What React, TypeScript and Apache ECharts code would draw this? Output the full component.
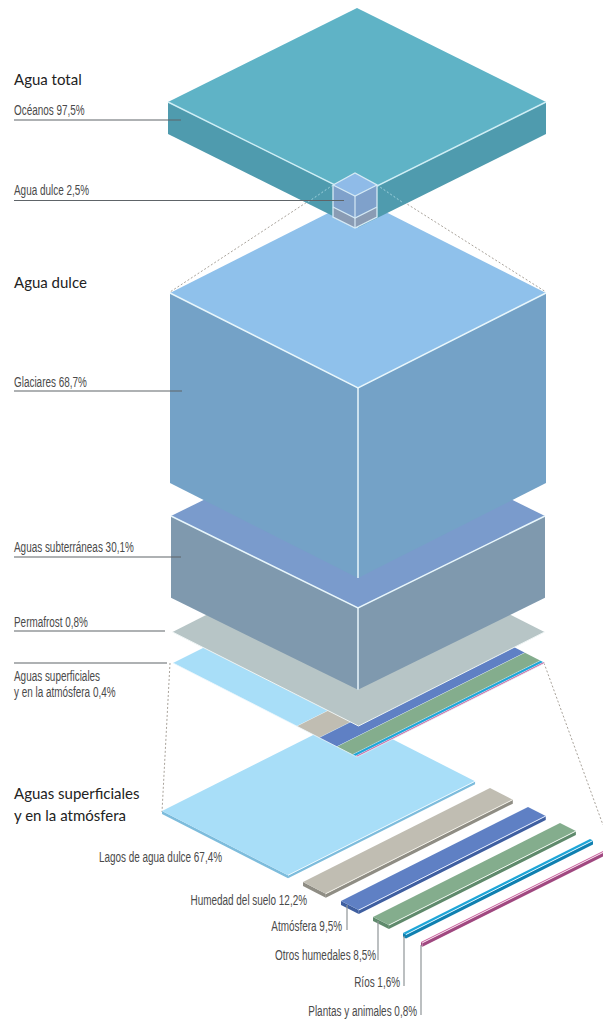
import React, { useEffect, useRef } from "react";
import * as echarts from "echarts";

const totalNames = ["Océanos", "Agua dulce"];
const totalValues = [97.5, 2.5];
const freshNames = ["Glaciares", "Aguas subterráneas", "Permafrost", "Aguas superficiales"];
const freshValues = [68.7, 30.1, 0.8, 0.4];
const surfaceNames = ["Lagos de agua dulce", "Humedad del suelo", "Atmósfera", "Otros humedales", "Ríos", "Plantas y animales"];
const surfaceValues = [67.4, 12.2, 9.5, 8.5, 1.6, 0.8];
const headings = ["Agua total", "Agua dulce", "Aguas superficiales", "y en la atmósfera"];

const pct = (v: number) => v.toFixed(1).replace(".", ",") + "%";

const W = 603;
const H = 1021;
const NARROW = "'Liberation Sans', sans-serif";
const TITLE = "Lato, 'Open Sans', sans-serif";
const LABEL = "#4a4a4a";
const LEADER = "#5e6468";
const GUIDE = "#a9a39b";
const EDGE = "#e8f6fb";
const NARROW_SCALE = 0.71;

type Pt = [number, number];
type Item =
  | { t: "poly"; pts: Pt[]; fill: string; stroke?: string; lw?: number }
  | { t: "line"; pts: Pt[]; stroke: string; lw: number; dash?: number[]; opacity?: number }
  | { t: "text"; at: Pt; text: string; fill: string; font: string; size: number; align: string; sx: number };

const items: Item[] = [];
const poly = (pts: Pt[], fill: string, stroke?: string, lw?: number) => items.push({ t: "poly", pts, fill, stroke, lw });
const line = (pts: Pt[], stroke: string, lw = 1, dash?: number[], opacity?: number) =>
  items.push({ t: "line", pts, stroke, lw, dash, opacity });
const text = (at: Pt, s: string, fill: string, font: string, size: number, align = "left", sx = 1) =>
  items.push({ t: "text", at, text: s, fill, font, size, align, sx });
const label = (at: Pt, s: string, align = "left") => text(at, s, LABEL, NARROW, 14, align, NARROW_SCALE);

// isometric block: cx centre, y of the left/right corners on top, half width and height of the diamond, block height
function block(cx: number, y: number, hw: number, hh: number, h: number, top: string, side: string, edge = EDGE, lw = 1.5) {
  const l: Pt = [cx - hw, y];
  const r: Pt = [cx + hw, y];
  const f: Pt = [cx, y + hh];
  const b: Pt = [cx, y - hh];
  if (h > 0) {
    poly([l, f, [cx, y + hh + h], [cx - hw, y + h]], side);
    poly([f, r, [cx + hw, y + h], [cx, y + hh + h]], side);
  }
  poly([l, f, r, b], top);
  line([l, f, r], edge, lw);
  if (h > 0) line([f, [cx, y + hh + h]], edge, lw);
}

// strip: starts at the left corner, width follows the share, runs up and to the right
function strip(o: Pt, width: number, run: Pt, slope: number, thick: number, top: string, side: string, edge: string) {
  const a = o;
  const b: Pt = [o[0] + width, o[1] + width * slope];
  const c: Pt = [b[0] + run[0], b[1] + run[1]];
  const d: Pt = [a[0] + run[0], a[1] + run[1]];
  if (thick > 0) {
    poly([a, b, [b[0], b[1] + thick], [a[0], a[1] + thick]], side);
    poly([b, c, [c[0], c[1] + thick], [b[0], b[1] + thick]], side);
  }
  poly([a, b, c, d], top);
  if (thick > 0) line([b, c], edge, 1);
  else line([a, b, c], edge, 0.8);
}

const surfaceTop = ["#a8def8", "#c0bdb2", "#5f80c4", "#84ad8d", "#1ea6d8", "#c9659f"];
const surfaceSide = ["#7dbcdc", "#8f8d84", "#3f5fa0", "#5f8a6c", "#1080b0", "#a04880"];
const surfaceEdge = ["#eaf8ff", "#f2f0e8", "#e4ecff", "#eef6ee", "#e0f6ff", "#f8e0ee"];

// --- lower exploded section
const lowerOrigins: Pt[] = [[162, 811], [303, 882], [341, 901], [373, 917], [403, 933], [421, 942]];
const lowerRuns: Pt[] = [[187, -94], [187, -94], [187, -94], [187, -94], [187, -94], [230, -115]];
line([[170, 663], [162, 812]], GUIDE, 1, [2, 2]);
line([[544, 663], [603, 825]], GUIDE, 1, [2, 2]);
surfaceValues.forEach((v, i) => {
  strip(lowerOrigins[i], v * 1.87, lowerRuns[i], 0.51, i === 0 ? 3 : 4, surfaceTop[i], surfaceSide[i], surfaceEdge[i]);
});
[[347, 905, 930], [378, 921, 960], [404, 936, 986], [421, 945, 1015]].forEach(([x, y0, y1]) =>
  line([[x, y0], [x, y1]], "#8f9598", 1.2)
);

// --- thin layer under the stack, same shares
let acc = 0;
surfaceValues.forEach((v, i) => {
  const w = v * 1.84;
  strip([173 + acc * 1.84, 663 + acc * 0.94], w, [188, -94], 0.51, 0, surfaceTop[i], surfaceSide[i], "#eef8fc");
  acc += v;
});

// --- permafrost and the freshwater stack
block(358.5, 632, 186, 94, 0, "#b7c5c6", "#b7c5c6", "#eef4f4", 1);
block(358, 516, 187, 92, freshValues[1] * 2.72, "#7a9bcc", "#7f99ae");
block(358, 293, 188, 95, freshValues[0] * 2.766, "#8fc1eb", "#74a2c7");

// --- dotted guides from the little cube to the big one
line([[333, 185], [170, 292]], GUIDE, 1, [2, 2]);
line([[377, 185], [546, 292]], GUIDE, 1, [2, 2]);

// --- ocean slab
block(357, 102, 189, 94, 32, "#5fb3c6", "#4f9bae", "#cfeef5");
line([[333, 185], [308, 202]], "#bfe6ee", 1, [2, 2], 0.7);
line([[377, 185], [402, 202]], "#bfe6ee", 1, [2, 2], 0.7);

// --- little cube: 2,5 % of the water, split by the same shares
const cubeK = 32 / 100;
const gh = (freshValues[1] + freshValues[2] + freshValues[3]) * cubeK;
const gl = freshValues[0] * cubeK;
const c = 355;
poly([[c - 22, 185 + gl], [c, 196 + gl], [c, 196 + gl + gh], [c - 22, 185 + gl + gh]], "#8a9cb4");
poly([[c, 196 + gl], [c + 22, 185 + gl], [c + 22, 185 + gl + gh], [c, 196 + gl + gh]], "#8a9cb4");
poly([[c - 22, 185], [c, 196], [c, 196 + gl], [c - 22, 185 + gl]], "#7fa1cb");
poly([[c, 196], [c + 22, 185], [c + 22, 185 + gl], [c, 196 + gl]], "#7fa1cb");
poly([[c - 22, 185], [c, 196], [c + 22, 185], [c, 173]], "#8fbbe8");
line([[c - 22, 185], [c, 173], [c + 22, 185], [c + 22, 185 + gl + gh], [c, 196 + gl + gh], [c - 22, 185 + gl + gh], [c - 22, 185]], "#d6eaf5", 1.3);
line([[c - 22, 185], [c, 196], [c + 22, 185]], "#d6eaf5", 1.2);
line([[c, 196], [c, 196 + gl + gh]], "#d6eaf5", 1.2);
line([[c - 22, 185 + gl], [c, 196 + gl], [c + 22, 185 + gl]], "#d6eaf5", 1.2);

// --- leaders on the left
([[120, 181], [200.5, 344], [391, 182], [557, 181], [631, 165], [663, 167]] as number[][]).forEach(([y, x1]) =>
  line([[14, y], [x1, y]], LEADER, 1.1)
);

// --- headings
text([14, 79], headings[0], "#222", TITLE, 15);
text([14, 282], headings[1], "#222", TITLE, 15);
text([14, 793], headings[2], "#222", TITLE, 15);
text([14, 815], headings[3], "#222", TITLE, 15);

// --- labels
label([14, 110], `${totalNames[0]} ${pct(totalValues[0])}`);
label([14, 190], `${totalNames[1]} ${pct(totalValues[1])}`);
label([14, 382], `${freshNames[0]} ${pct(freshValues[0])}`);
label([14, 547], `${freshNames[1]} ${pct(freshValues[1])}`);
label([14, 622], `${freshNames[2]} ${pct(freshValues[2])}`);
label([14, 676], freshNames[3]);
label([14, 692], `y en la atmósfera ${pct(freshValues[3])}`);
const lowerLabelAt: Pt[] = [[222, 857], [307, 900], [342, 926], [376, 955], [400, 982], [417, 1011]];
surfaceNames.forEach((n, i) => label(lowerLabelAt[i], `${n} ${pct(surfaceValues[i])}`, "right"));

const renderItem = (params: any, api: any) => {
  const it = items[params.dataIndex];
  const map = (p: Pt) => api.coord(p) as number[];
  if (it.t === "poly") {
    return {
      type: "polygon",
      shape: { points: it.pts.map(map) },
      style: { fill: it.fill, stroke: it.stroke, lineWidth: it.lw },
    };
  }
  if (it.t === "line") {
    return {
      type: "polyline",
      shape: { points: it.pts.map(map) },
      style: { fill: "none", stroke: it.stroke, lineWidth: it.lw, lineDash: it.dash, opacity: it.opacity ?? 1 },
    };
  }
  const [x, y] = map(it.at);
  return {
    type: "text",
    x,
    y,
    scaleX: it.sx,
    style: {
      text: it.text,
      fill: it.fill,
      fontFamily: it.font,
      fontSize: it.size,
      textAlign: it.align,
      textVerticalAlign: "middle",
    },
  };
};

export default function App() {
  const ref = useRef<HTMLDivElement>(null);
  useEffect(() => {
    document.body.style.margin = "0";
    const chart = echarts.init(ref.current!, undefined, { renderer: "svg" });
    chart.setOption({
      animation: false,
      backgroundColor: "#ffffff",
      grid: { left: 0, right: 0, top: 0, bottom: 0 },
      xAxis: { type: "value", min: 0, max: W, show: false },
      yAxis: { type: "value", min: 0, max: H, inverse: true, show: false },
      series: [
        {
          type: "custom",
          coordinateSystem: "cartesian2d",
          clip: false,
          silent: true,
          encode: { x: 0, y: 1 },
          data: items.map(() => [0, 0]),
          renderItem,
        },
      ],
    });
    return () => chart.dispose();
  }, []);
  return <div ref={ref} style={{ width: W, height: H }} />;
}
